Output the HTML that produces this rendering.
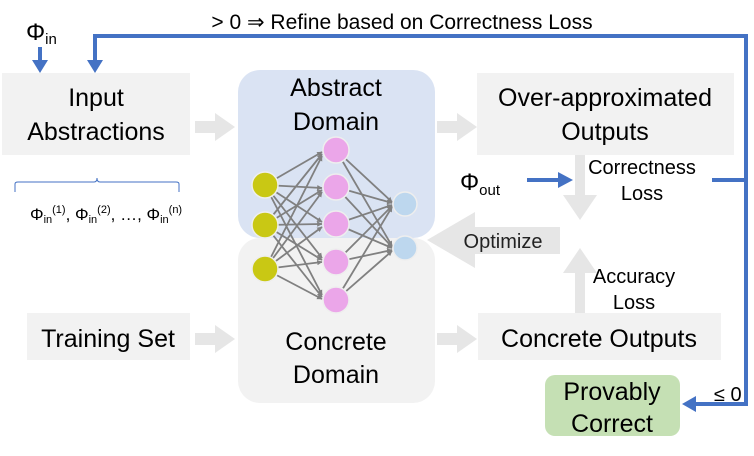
<!DOCTYPE html>
<html><head><meta charset="utf-8"><style>
html,body{margin:0;padding:0;background:#fff;}
svg{display:block;}
text{font-family:"Liberation Sans",sans-serif;}
</style></head><body>
<svg width="754" height="456" viewBox="0 0 754 456" xmlns="http://www.w3.org/2000/svg">
<defs>
<marker id="ga" viewBox="0 0 10 10" refX="9" refY="5" markerWidth="3" markerHeight="3" orient="auto"><path d="M0,0L10,5L0,10z" fill="#808080"/></marker>
</defs>
<rect x="238" y="238" width="197" height="165" rx="22" fill="#f2f2f2"/>
<rect x="238" y="70" width="197" height="168" rx="22" fill="#dae3f3"/>
<rect x="2" y="73" width="188" height="82" fill="#f2f2f2"/>
<rect x="477" y="73" width="257" height="82" fill="#f2f2f2"/>
<rect x="27" y="313" width="163" height="47" fill="#f2f2f2"/>
<rect x="478" y="313" width="243" height="47" fill="#f2f2f2"/>
<rect x="545" y="375" width="135" height="61" rx="10" fill="#c5e0b4"/>
<g fill="#e6e6e6">
<path d="M195,121h20v-8l20,14l-20,14v-8h-20z"/>
<path d="M437,121h20v-8l20,14l-20,14v-8h-20z"/>
<path d="M195,333h20v-8l20,14l-20,14v-8h-20z"/>
<path d="M437,333h20v-8l20,14l-20,14v-8h-20z"/>
<path d="M575,155h10v40h12l-17,25l-17,-25h12z"/>
<path d="M575,313h10v-40h12l-17,-25l-17,25h12z"/>
<path d="M560,227v27h-85v14l-48,-28l48,-28v15z"/>
</g>
<g stroke="#808080" stroke-width="1.8" marker-end="url(#ga)">
<line x1="265" y1="185" x2="322" y2="152"/><line x1="265" y1="185" x2="322" y2="188"/><line x1="265" y1="185" x2="322" y2="222"/><line x1="265" y1="185" x2="322" y2="258"/><line x1="265" y1="185" x2="322" y2="295"/>
<line x1="265" y1="225" x2="322" y2="154"/><line x1="265" y1="225" x2="322" y2="190"/><line x1="265" y1="225" x2="322" y2="224"/><line x1="265" y1="225" x2="322" y2="260"/><line x1="265" y1="225" x2="322" y2="297"/>
<line x1="265" y1="269" x2="322" y2="156"/><line x1="265" y1="269" x2="322" y2="192"/><line x1="265" y1="269" x2="322" y2="227"/><line x1="265" y1="269" x2="322" y2="262"/><line x1="265" y1="269" x2="322" y2="299"/>
<line x1="336" y1="150" x2="392" y2="202"/><line x1="336" y1="150" x2="392" y2="246"/>
<line x1="336" y1="187" x2="392" y2="203"/><line x1="336" y1="187" x2="392" y2="247"/>
<line x1="336" y1="224" x2="392" y2="205"/><line x1="336" y1="224" x2="392" y2="248"/>
<line x1="336" y1="262" x2="392" y2="206"/><line x1="336" y1="262" x2="392" y2="250"/>
<line x1="336" y1="300" x2="392" y2="207"/><line x1="336" y1="300" x2="392" y2="251"/>
</g>
<g stroke="#eeeeee" stroke-width="1.5">
<circle cx="265" cy="185" r="13" fill="#c9c814"/><circle cx="265" cy="225" r="13" fill="#c9c814"/><circle cx="265" cy="269" r="13" fill="#c9c814"/>
<circle cx="336" cy="150" r="13" fill="#eba6e9"/><circle cx="336" cy="187" r="13" fill="#eba6e9"/><circle cx="336" cy="224" r="13" fill="#eba6e9"/><circle cx="336" cy="262" r="13" fill="#eba6e9"/><circle cx="336" cy="300" r="13" fill="#eba6e9"/>
<circle cx="405" cy="204" r="12" fill="#bdd7ee"/><circle cx="405" cy="248" r="12" fill="#bdd7ee"/>
</g>
<g stroke="#4472c4" stroke-width="4" fill="none">
<path d="M40,47v14"/>
<path d="M95,61V36H746V404H695"/>
<path d="M712,180H746"/>
<path d="M527,180H560"/>
</g>
<g fill="#4472c4">
<path d="M32,60h16l-8,13z"/>
<path d="M87,60h16l-8,13z"/>
<path d="M558,172v16l15,-8z"/>
<path d="M696,396v16l-14,-8z"/>
</g>
<path d="M15,192v-8q0,-2 3,-2h76q3,0 3,-4q0,4 3,4h76q3,0 3,2v8" stroke="#4472c4" stroke-width="1" fill="none"/>
<g font-size="25" fill="#000" text-anchor="middle">
<text x="96" y="106">Input</text><text x="96" y="140">Abstractions</text>
<text x="336" y="96">Abstract</text><text x="336" y="130">Domain</text>
<text x="605" y="106">Over-approximated</text><text x="605" y="140">Outputs</text>
<text x="108" y="347">Training Set</text>
<text x="599" y="347">Concrete Outputs</text>
<text x="336" y="350">Concrete</text><text x="336" y="383">Domain</text>
<text x="612" y="400">Provably</text><text x="612" y="432">Correct</text>
</g>
<g font-size="20" fill="#000" text-anchor="middle">
<text x="642" y="174">Correctness</text><text x="642" y="200">Loss</text>
<text x="634" y="283">Accuracy</text><text x="634" y="309">Loss</text>
</g>
<text x="503" y="248" font-size="20" text-anchor="middle" fill="#222">Optimize</text>
<text x="402" y="29" font-size="21" text-anchor="middle" fill="#000">&gt; 0 ⇒ Refine based on Correctness Loss</text>
<text x="714" y="401" font-size="20" fill="#000">≤ 0</text>
<text x="26" y="40" font-size="24">Φ<tspan font-size="15" dy="4">in</tspan></text>
<text x="460" y="190" font-size="24">Φ<tspan font-size="15" dy="5">out</tspan></text>
<text x="30" y="220" font-size="17">Φ<tspan font-size="11" dy="3">in</tspan><tspan font-size="11" dy="-10">(1)</tspan><tspan dy="7">, Φ</tspan><tspan font-size="11" dy="3">in</tspan><tspan font-size="11" dy="-10">(2)</tspan><tspan dy="7">, …, Φ</tspan><tspan font-size="11" dy="3">in</tspan><tspan font-size="11" dy="-10">(n)</tspan></text>
</svg>
</body></html>
